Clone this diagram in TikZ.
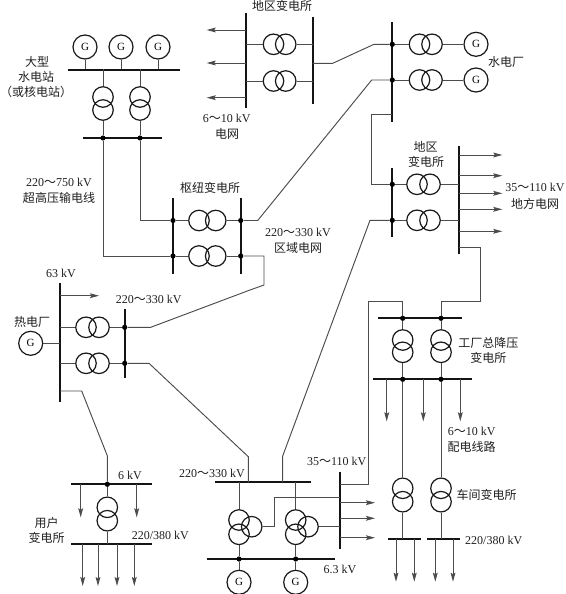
\documentclass[tikz,border=0pt]{standalone}
\usepackage{fontspec}
\setmainfont{Liberation Serif}
\newfontfamily\cjk{Noto Sans CJK SC}
\usetikzlibrary{arrows.meta}
\newcommand\zz{{\cjk ～}}
\newcommand\pairh[4]{\node[coil] (#1a) at (#2,#4) {}; \node[coil] (#1b) at (#3,#4) {};}
\newcommand\pairv[4]{\node[coil] (#1a) at (#2,#3) {}; \node[coil] (#1b) at (#2,#4) {};}
\tikzset{
  wire/.style={line width=0.95pt,draw=black!70},
  busbar/.style={line width=1.9pt,draw=black!92},
  coil/.style={circle,draw=black!90,line width=1.2pt,minimum size=20.5pt,inner sep=0pt},
  gen/.style={circle,draw=black!90,line width=1.2pt,minimum size=24pt,inner sep=0pt,font=\fontsize{11}{12}\selectfont},
  jdot/.style={circle,fill=black,inner sep=0pt,minimum size=5.2pt},
  feed/.style={wire,-{Stealth[length=9pt,width=4.8pt,inset=1.5pt]}},
  lbl/.style={inner sep=0pt,font=\fontsize{12}{13}\selectfont,text=black!88}
}
\begin{document}
\begin{tikzpicture}[x=1pt,y=-1pt]
\useasboundingbox (0,0) rectangle (565,594);
% --- large hydro plant
\node[gen] (g1) at (85,47) {G};
\node[gen] (g2) at (121,47) {G};
\node[gen] (g3) at (158,47) {G};
\coordinate (ba) at (68,70); \coordinate (bb) at (180,70);
\draw[busbar] (ba) -- (bb);
\coordinate (g1b) at (85,69.5); \coordinate (g2b) at (121,69.5); \coordinate (g3b) at (158,69.5);
\draw[wire] (g1) -- (g1b); \draw[wire] (g2) -- (g2b); \draw[wire] (g3) -- (g3b);
\coordinate (t1t) at (103,69.5); \coordinate (t2t) at (140,69.5);
\pairv{ta}{103}{97}{110}
\pairv{tb}{140}{97}{110}
\coordinate (bc) at (83,138); \coordinate (bd) at (162,138);
\draw[busbar] (bc) -- (bd);
\node[jdot] (da) at (103,138) {};
\node[jdot] (db) at (140,138) {};
\draw[wire] (t1t) -- (taa); \draw[wire] (t2t) -- (tba);
\draw[wire] (tab) -- (da); \draw[wire] (tbb) -- (db);
% --- hub substation
\coordinate (h1a) at (173,198); \coordinate (h1b) at (173,274);
\coordinate (h2a) at (240.7,198); \coordinate (h2b) at (240.7,274);
\draw[busbar] (h1a) -- (h1b); \draw[busbar] (h2a) -- (h2b);
\node[jdot] (hd1) at (173,220.5) {};
\node[jdot] (hd2) at (173,256) {};
\node[jdot] (hd3) at (240.7,220.5) {};
\node[jdot] (hd4) at (240.7,256) {};
\pairh{hu}{199}{215.7}{220.5}
\pairh{hl}{199}{215.7}{256}
\draw[wire] (hd1) -- (hua); \draw[wire] (hub) -- (hd3);
\draw[wire] (hd2) -- (hla); \draw[wire] (hlb) -- (hd4);
\coordinate (c1) at (103,256); \coordinate (c2) at (140,220.5);
\draw[wire] (da) -- (c1) -- (hd2);
\draw[wire] (db) -- (c2) -- (hd1);
% --- regional substation top
\coordinate (r1a) at (246.3,12.7); \coordinate (r1b) at (246.3,107.7);
\coordinate (r2a) at (312.7,16.7); \coordinate (r2b) at (312.7,104);
\draw[busbar] (r1a) -- (r1b); \draw[busbar] (r2a) -- (r2b);
\foreach \i/\p in {1/30,2/63,3/97.7} {
  \coordinate (rs\i) at (246.3,\p); \coordinate (rt\i) at (206.7,\p);
  \draw[feed] (rs\i) -- (rt\i);
}
\pairh{ru}{273.5}{285.7}{44.3}
\pairh{rl}{273.5}{285.7}{81}
\coordinate (r1u) at (246.3,44.3); \coordinate (r1l) at (246.3,81);
\coordinate (r2u) at (312.7,44.3); \coordinate (r2l) at (312.7,81);
\draw[wire] (r1u) -- (rua); \draw[wire] (rub) -- (r2u);
\draw[wire] (r1l) -- (rla); \draw[wire] (rlb) -- (r2l);
% --- hydro station
\coordinate (w1a) at (392.3,22.3); \coordinate (w1b) at (392.3,121.7);
\draw[busbar] (w1a) -- (w1b);
\node[jdot] (wd1) at (392.3,44.3) {};
\node[jdot] (wd2) at (392.3,80) {};
\pairh{wu}{419.5}{432}{44.3}
\pairh{wl}{419.5}{432}{80}
\node[gen] (g4) at (476,44.3) {G};
\node[gen] (g5) at (476,80) {G};
\draw[wire] (wd1) -- (wua); \draw[wire] (wub) -- (g4);
\draw[wire] (wd2) -- (wla); \draw[wire] (wlb) -- (g5);
\coordinate (r2m) at (312.7,63.3); \coordinate (k1) at (332.7,63.3); \coordinate (k2) at (374,44.3);
\draw[wire] (r2m) -- (k1) -- (k2) -- (wd1);
\coordinate (k3) at (257.7,220.5); \coordinate (k4) at (371.7,80);
\draw[wire] (hd3) -- (k3) -- (k4) -- (wd2);
% --- regional substation middle
\coordinate (m1a) at (392.3,167.7); \coordinate (m1b) at (392.3,237.3);
\coordinate (m2a) at (458.7,146); \coordinate (m2b) at (458.7,254);
\draw[busbar] (m1a) -- (m1b); \draw[busbar] (m2a) -- (m2b);
\node[jdot] (md1) at (392.3,184.3) {};
\node[jdot] (md2) at (392.3,220.3) {};
\pairh{mu}{417}{430}{184.3}
\pairh{ml}{417}{430}{220.3}
\coordinate (m2u) at (458.7,184.3); \coordinate (m2l) at (458.7,220.3);
\draw[wire] (md1) -- (mua); \draw[wire] (mub) -- (m2u);
\draw[wire] (md2) -- (mla); \draw[wire] (mlb) -- (m2l);
\coordinate (w1c) at (392.3,114.3); \coordinate (k5) at (371.7,114.3); \coordinate (k6) at (371.7,184.3);
\draw[wire] (w1c) -- (k5) -- (k6) -- (md1);
\foreach \i/\p in {1/155,2/175.7,3/193.3,4/209.3,5/231.3} {
  \coordinate (ms\i) at (458.7,\p); \coordinate (mt\i) at (502.3,\p);
  \draw[feed] (ms\i) -- (mt\i);
}
% --- factory step-down substation
\coordinate (f1a) at (377.7,318.3); \coordinate (f1b) at (462,318.3);
\coordinate (f2a) at (373,379.3); \coordinate (f2b) at (472,379.3);
\draw[busbar] (f1a) -- (f1b); \draw[busbar] (f2a) -- (f2b);
\node[jdot] (fd1) at (402.7,318.3) {};
\node[jdot] (fd2) at (441,318.3) {};
\node[jdot] (fd3) at (402.7,379.3) {};
\node[jdot] (fd4) at (441,379.3) {};
\pairv{fa}{402.7}{340}{352.3}
\pairv{fb}{441}{340}{352.3}
\draw[wire] (fd1) -- (faa); \draw[wire] (fab) -- (fd3);
\draw[wire] (fd2) -- (fba); \draw[wire] (fbb) -- (fd4);
\coordinate (m2c) at (458.7,247); \coordinate (k7) at (480.7,247); \coordinate (k8) at (480.7,301.3); \coordinate (k9) at (441,301.3);
\draw[wire] (m2c) -- (k7) -- (k8) -- (k9) -- (fd2);
\foreach \i/\p in {1/386.7,2/423.3,3/460.3} {
  \coordinate (fs\i) at (\p,379.3); \coordinate (ft\i) at (\p,421.3);
  \draw[feed] (fs\i) -- (ft\i);
}
% --- workshop substations
\pairv{sa}{402.7}{488.3}{501.7}
\pairv{sb}{441}{488.3}{501.7}
\draw[wire] (fd3) -- (saa); \draw[wire] (fd4) -- (sba);
\coordinate (s1a) at (388.3,539.3); \coordinate (s1b) at (420.7,539.3);
\coordinate (s2a) at (427,539.3); \coordinate (s2b) at (459.7,539.3);
\draw[busbar] (s1a) -- (s1b); \draw[busbar] (s2a) -- (s2b);
\coordinate (s1m) at (402.7,539.3); \coordinate (s2m) at (441,539.3);
\draw[wire] (sab) -- (s1m); \draw[wire] (sbb) -- (s2m);
\foreach \i/\p in {1/396,2/414.3,3/435.3,4/453} {
  \coordinate (ss\i) at (\p,539.3); \coordinate (st\i) at (\p,581.7);
  \draw[feed] (ss\i) -- (st\i);
}
% --- thermal plant
\coordinate (p1a) at (60,283.3); \coordinate (p1b) at (60,401.7);
\draw[busbar] (p1a) -- (p1b);
\coordinate (ps) at (60,295.7); \coordinate (pt) at (99,295.7);
\draw[feed] (ps) -- (pt);
\node[gen] (g6) at (30.7,343.3) {G};
\coordinate (pg) at (60,343.3);
\draw[wire] (g6) -- (pg);
\pairh{pu}{86}{99}{327.3}
\pairh{pl}{86}{99}{363.3}
\coordinate (p1u) at (60,327.3); \coordinate (p1l) at (60,363.3);
\coordinate (p2a) at (124.7,309.3); \coordinate (p2b) at (124.7,378);
\draw[busbar] (p2a) -- (p2b);
\node[jdot] (pd1) at (124.7,327.3) {};
\node[jdot] (pd2) at (124.7,363.3) {};
\draw[wire] (p1u) -- (pua); \draw[wire] (pub) -- (pd1);
\draw[wire] (p1l) -- (pla); \draw[wire] (plb) -- (pd2);
\coordinate (q1) at (150.7,327.3); \coordinate (q2) at (250,290); \coordinate (q3) at (264,285); \coordinate (q4) at (264,256);
\draw[wire] (pd1) -- (q1) -- (q2) -- (q3) -- (q4) -- (hd4);
% --- power plant at the bottom
\coordinate (e1a) at (215,482.3); \coordinate (e1b) at (311,482.3);
\coordinate (e2a) at (206.7,559); \coordinate (e2b) at (335,559);
\draw[busbar] (e1a) -- (e1b); \draw[busbar] (e2a) -- (e2b);
\node[coil] (ea) at (239,520) {}; \node[coil] (eb) at (239,534.3) {}; \node[coil] (ec) at (251.7,526.7) {};
\node[coil] (ed) at (295.7,520) {}; \node[coil] (ee) at (295.7,534.3) {}; \node[coil] (ef) at (308,526.7) {};
\node[jdot] (ed1) at (239,559) {};
\node[jdot] (ed2) at (295.7,559) {};
\node[gen] (g7) at (239,582.3) {G};
\node[gen] (g8) at (295.7,582.3) {G};
\coordinate (e1l) at (239,482.3); \coordinate (e1r) at (295.7,482.3);
\draw[wire] (e1l) -- (ea); \draw[wire] (e1r) -- (ed);
\draw[wire] (eb) -- (ed1); \draw[wire] (ee) -- (ed2);
\draw[wire] (ed1) -- (g7); \draw[wire] (ed2) -- (g8);
% --- 35-110 kV bus
\coordinate (n1a) at (340.3,471.7); \coordinate (n1b) at (340.3,549);
\draw[busbar] (n1a) -- (n1b);
\coordinate (u1) at (274.3,526.7); \coordinate (u2) at (274.3,497); \coordinate (u3) at (340.3,497); \coordinate (u4) at (340.3,526.7);
\draw[wire] (ec) -- (u1) -- (u2) -- (u3);
\draw[wire] (ef) -- (u4);
\foreach \i/\p in {1/502.7,2/518.3,3/537.7} {
  \coordinate (ns\i) at (340.3,\p); \coordinate (nt\i) at (375,\p);
  \draw[feed] (ns\i) -- (nt\i);
}
\coordinate (n1c) at (340.3,484.3); \coordinate (v1) at (368.3,484.3); \coordinate (v2) at (368.3,301.3); \coordinate (v3) at (402.7,301.3);
\draw[wire] (n1c) -- (v1) -- (v2) -- (v3) -- (fd1);
\coordinate (x1) at (370,220.3); \coordinate (x2) at (282.7,456); \coordinate (x3) at (282.7,482.3);
\draw[wire] (md2) -- (x1) -- (x2) -- (x3);
\coordinate (x4) at (149,363.3); \coordinate (x5) at (248.3,456.7); \coordinate (x6) at (248.3,482.3);
\draw[wire] (pd2) -- (x4) -- (x5) -- (x6);
% --- user substation
\coordinate (a1a) at (71.3,484.3); \coordinate (a1b) at (151.7,484.3);
\coordinate (a2a) at (71.3,543.7); \coordinate (a2b) at (151.7,543.7);
\draw[busbar] (a1a) -- (a1b); \draw[busbar] (a2a) -- (a2b);
\node[jdot] (ad) at (107.3,484.3) {};
\pairv{aa}{107.3}{507.3}{520.7}
\coordinate (am) at (107.3,543.7);
\draw[wire] (ad) -- (aaa); \draw[wire] (aab) -- (am);
\coordinate (y1) at (60,391); \coordinate (y2) at (81.7,391); \coordinate (y3) at (107.3,455.7);
\draw[wire] (y1) -- (y2) -- (y3) -- (ad);
\foreach \i/\p in {1/80.7,2/136.7} {
  \coordinate (as\i) at (\p,484.3); \coordinate (at\i) at (\p,517.3);
  \draw[feed] (as\i) -- (at\i);
}
\foreach \i/\p in {1/82.7,2/98,3/117,4/134.3} {
  \coordinate (bs\i) at (\p,543.7); \coordinate (bt\i) at (\p,586);
  \draw[feed] (bs\i) -- (bt\i);
}
% --- labels
\node[lbl] (l1) at (282,6) {\cjk 地区变电所};
\node[lbl] (l2) at (37,62) {\cjk 大型};
\node[lbl] (l3) at (36,77) {\cjk 水电站};
\node[lbl] (l4) at (36,92) {\cjk （或核电站）};
\node[lbl] (l5) at (226.7,118) {6\zz10 kV};
\node[lbl] (l6) at (227,134) {\cjk 电网};
\node[lbl] (l7) at (59,182) {220\zz750 kV};
\node[lbl] (l8) at (59,197.5) {\cjk 超高压输电线};
\node[lbl] (l9) at (210,188) {\cjk 枢纽变电所};
\node[lbl] (l10) at (298,232.7) {220\zz330 kV};
\node[lbl] (l11) at (298,248) {\cjk 区域电网};
\node[lbl] (l12) at (506,62) {\cjk 水电厂};
\node[lbl] (l13) at (425.7,146.7) {\cjk 地区};
\node[lbl] (l14) at (426,162) {\cjk 变电所};
\node[lbl] (l15) at (535,187.7) {35\zz110 kV};
\node[lbl] (l16) at (535,203.5) {\cjk 地方电网};
\node[lbl] (l17) at (61,273) {63 kV};
\node[lbl] (l18) at (148.7,299) {220\zz330 kV};
\node[lbl] (l19) at (32,322) {\cjk 热电厂};
\node[lbl] (l20) at (130,475.7) {6 kV};
\node[lbl] (l21) at (46.7,523.3) {\cjk 用户};
\node[lbl] (l22) at (46.7,538.3) {\cjk 变电所};
\node[lbl] (l23) at (160.3,535.7) {220/380 kV};
\node[lbl] (l24) at (212,473.7) {220\zz330 kV};
\node[lbl] (l25) at (336.7,461) {35\zz110 kV};
\node[lbl] (l26) at (488.3,343.3) {\cjk 工厂总降压};
\node[lbl] (l27) at (488.3,358.3) {\cjk 变电所};
\node[lbl] (l28) at (471.7,431.7) {6\zz10 kV};
\node[lbl] (l29) at (471.7,446.7) {\cjk 配电线路};
\node[lbl] (l30) at (486.7,495) {\cjk 车间变电所};
\node[lbl] (l31) at (493.7,540) {220/380 kV};
\node[lbl] (l32) at (340,569.3) {6.3 kV};
\end{tikzpicture}
\end{document}
